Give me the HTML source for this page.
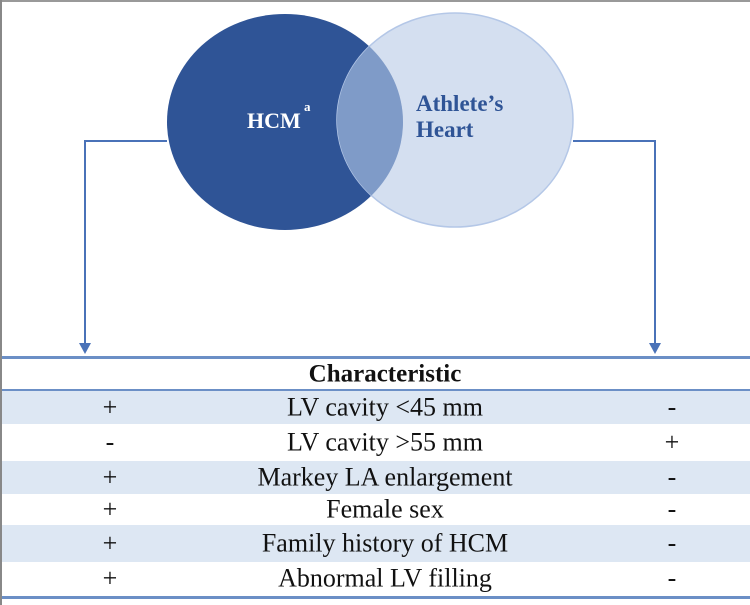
<!DOCTYPE html>
<html><head><style>
body{margin:0;width:750px;height:605px;background:#fff;overflow:hidden;position:relative;font-family:"Liberation Serif",serif;}
.row{position:absolute;left:0;width:750px;font-size:26px;color:#111;}
.row span{position:absolute;top:50%;transform:translate(-50%,-52%);white-space:nowrap;}
.b{background:#dde7f3;}
.l{left:110px}.c{left:385px}.r{left:672px}
.hl{position:absolute;left:0;width:750px;height:3px;background:#6b8fc6;}
</style></head><body>
<svg width="750" height="360" style="position:absolute;left:0;top:0">
<line x1="0" y1="1" x2="750" y2="1" stroke="#999" stroke-width="2"/>
<ellipse cx="285" cy="122" rx="118" ry="108" fill="#2f5496"/>
<ellipse cx="455" cy="120" rx="118" ry="107" fill="#cfdcee" fill-opacity="0.9" stroke="#b4c7e7" stroke-width="1.5"/>
<clipPath id="c"><ellipse cx="285" cy="122" rx="118" ry="108"/></clipPath>
<ellipse cx="455" cy="120" rx="118" ry="107" fill="#7f9bc8" clip-path="url(#c)"/>
<text x="247" y="128" font-family="Liberation Serif" font-weight="bold" font-size="22" fill="#fff">HCM</text>
<text x="304" y="111" font-family="Liberation Serif" font-weight="bold" font-size="13" fill="#fff">a</text>
<text x="416" y="111" font-family="Liberation Serif" font-weight="bold" font-size="23" fill="#2f5496">Athlete’s</text>
<text x="416" y="137" font-family="Liberation Serif" font-weight="bold" font-size="23" fill="#2f5496">Heart</text>
<polyline points="167,141 85,141 85,345" fill="none" stroke="#4a72b8" stroke-width="2"/>
<polyline points="573,141 655,141 655,345" fill="none" stroke="#4a72b8" stroke-width="2"/>
<polygon points="79,343 91,343 85,354" fill="#4a72b8"/>
<polygon points="649,343 661,343 655,354" fill="#4a72b8"/>
</svg>
<div class="hl" style="top:356px"></div>
<div class="row" style="top:359px;height:31px"><span class="c" style="font-weight:bold;font-size:25px">Characteristic</span></div>
<div class="hl" style="top:389px;height:2px"></div>
<div class="row b" style="top:391px;height:33px"><span class="l">+</span><span class="c">LV cavity &lt;45 mm</span><span class="r">-</span></div>
<div class="row" style="top:424px;height:37px"><span class="l">-</span><span class="c">LV cavity &gt;55 mm</span><span class="r">+</span></div>
<div class="row b" style="top:461px;height:33px"><span class="l">+</span><span class="c">Markey LA enlargement</span><span class="r">-</span></div>
<div class="row" style="top:494px;height:31px"><span class="l">+</span><span class="c">Female sex</span><span class="r">-</span></div>
<div class="row b" style="top:525px;height:37px"><span class="l">+</span><span class="c">Family history of HCM</span><span class="r">-</span></div>
<div class="row" style="top:562px;height:34px"><span class="l">+</span><span class="c">Abnormal LV filling</span><span class="r">-</span></div>
<div class="hl" style="top:596px"></div>
<div style="position:absolute;left:0;top:0;width:2px;height:605px;background:#888"></div>
</body></html>
